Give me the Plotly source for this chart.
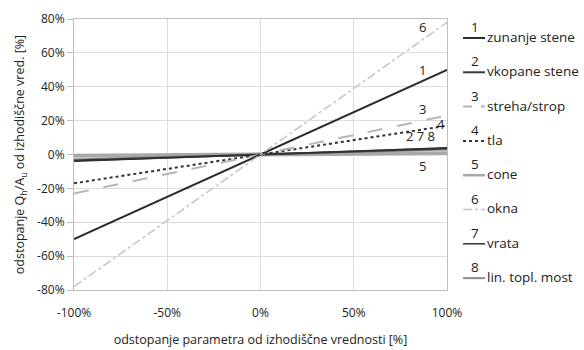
import plotly.graph_objects as go

x_vals = [-100, 0, 100]
names = ["zunanje stene", "vkopane stene", "streha/strop", "tla", "cone", "okna", "vrata", "lin. topl. most"]
numbers = ["1", "2", "3", "4", "5", "6", "7", "8"]
y_zunanje = [-50, 0, 50]
y_vkopane = [-3.5, 0, 3.5]
y_streha = [-23, 0, 23]
y_tla = [-17, 0, 17]
y_cone = [-0.8, 0, 0.8]
y_okna = [-78, 0, 78]
y_vrata = [-4, 0, 4]
y_most = [-3, 0, 3]

colors = ["#2b2b2b", "#3a3a3a", "#b5b5b5", "#333333", "#a8a8a8", "#c4c4c4", "#303030", "#8a8a8a"]
dashes = ["solid", "solid", "longdash", "dot", "solid", "dashdot", "solid", "solid"]
widths = [2, 2, 2, 2, 4, 1.5, 1.5, 2]
series = [y_zunanje, y_vkopane, y_streha, y_tla, y_cone, y_okna, y_vrata, y_most]

font = "Open Sans"
tcol = "#222"
fig = go.Figure()
order = [4, 7, 1, 6, 3, 2, 0, 5]
for i in order:
    fig.add_trace(go.Scatter(x=x_vals, y=series[i], mode="lines", name=names[i],
                             line=dict(color=colors[i], dash=dashes[i], width=widths[i]),
                             showlegend=False))

# in-plot labels
lab_text = ["6", "1", "3", "4", "2 7 8", "5"]
lab_x = [87, 87, 87, 97, 86, 87]
lab_y = [75, 50, 27, 18, 11, -7]
for t, xx, yy in zip(lab_text, lab_x, lab_y):
    fig.add_annotation(x=xx, y=yy, text=t, showarrow=False, xref="x", yref="y",
                       font=dict(family=font, size=13, color=tcol))

# custom legend
leg_y0 = 0.934
step = 0.1266
for k in range(8):
    yy = leg_y0 - k * step
    fig.add_shape(type="line", xref="paper", yref="paper", x0=1.043, x1=1.102, y0=yy - 0.004, y1=yy - 0.004,
                  line=dict(color=colors[k], dash=dashes[k] if dashes[k] != "longdash" else "dash",
                            width=min(widths[k], 2.5)))
    fig.add_annotation(xref="paper", yref="paper", x=1.075, y=yy + 0.036, text=numbers[k], showarrow=False,
                       xanchor="center", yanchor="middle", font=dict(family=font, size=13.5, color=tcol))
    fig.add_annotation(xref="paper", yref="paper", x=1.103, y=yy, text=names[k], showarrow=False,
                       xanchor="left", yanchor="middle", font=dict(family=font, size=13.5, color=tcol))

fig.update_layout(
    width=584, height=350,
    margin=dict(l=74, r=137, t=19, b=60),
    plot_bgcolor="white", paper_bgcolor="white",
    font=dict(family=font, size=12, color=tcol),
    xaxis=dict(range=[-100, 100], tickvals=[-100, -50, 0, 50, 100],
               ticktext=["-100%", "-50%", "0%", "50%", "100%"],
               showgrid=True, gridcolor="#dcdcdc", zeroline=False, automargin=False,
               showline=True, linecolor="#bdbdbd", mirror=True, ticks="outside", ticklen=12,
               tickcolor="rgba(0,0,0,0)",
               title=dict(text="odstopanje parametra od izhodiščne vrednosti [%]", standoff=14,
                          font=dict(size=12.5))),
    yaxis=dict(range=[-80, 80], tickvals=[-80, -60, -40, -20, 0, 20, 40, 60, 80],
               ticktext=["-80%", "-60%", "-40%", "-20%", "0%", "20%", "40%", "60%", "80%"],
               showgrid=True, gridcolor="#dcdcdc", zeroline=False, automargin=False,
               showline=True, linecolor="#bdbdbd", mirror=True, ticks="outside", ticklen=6, tickcolor="#bdbdbd",
               title=dict(text="odstopanje Q<sub>h</sub>/A<sub>u</sub> od izhodiščne vred. [%]", standoff=9,
                          font=dict(size=12.5))),
)

fig.write_html("out.html")
